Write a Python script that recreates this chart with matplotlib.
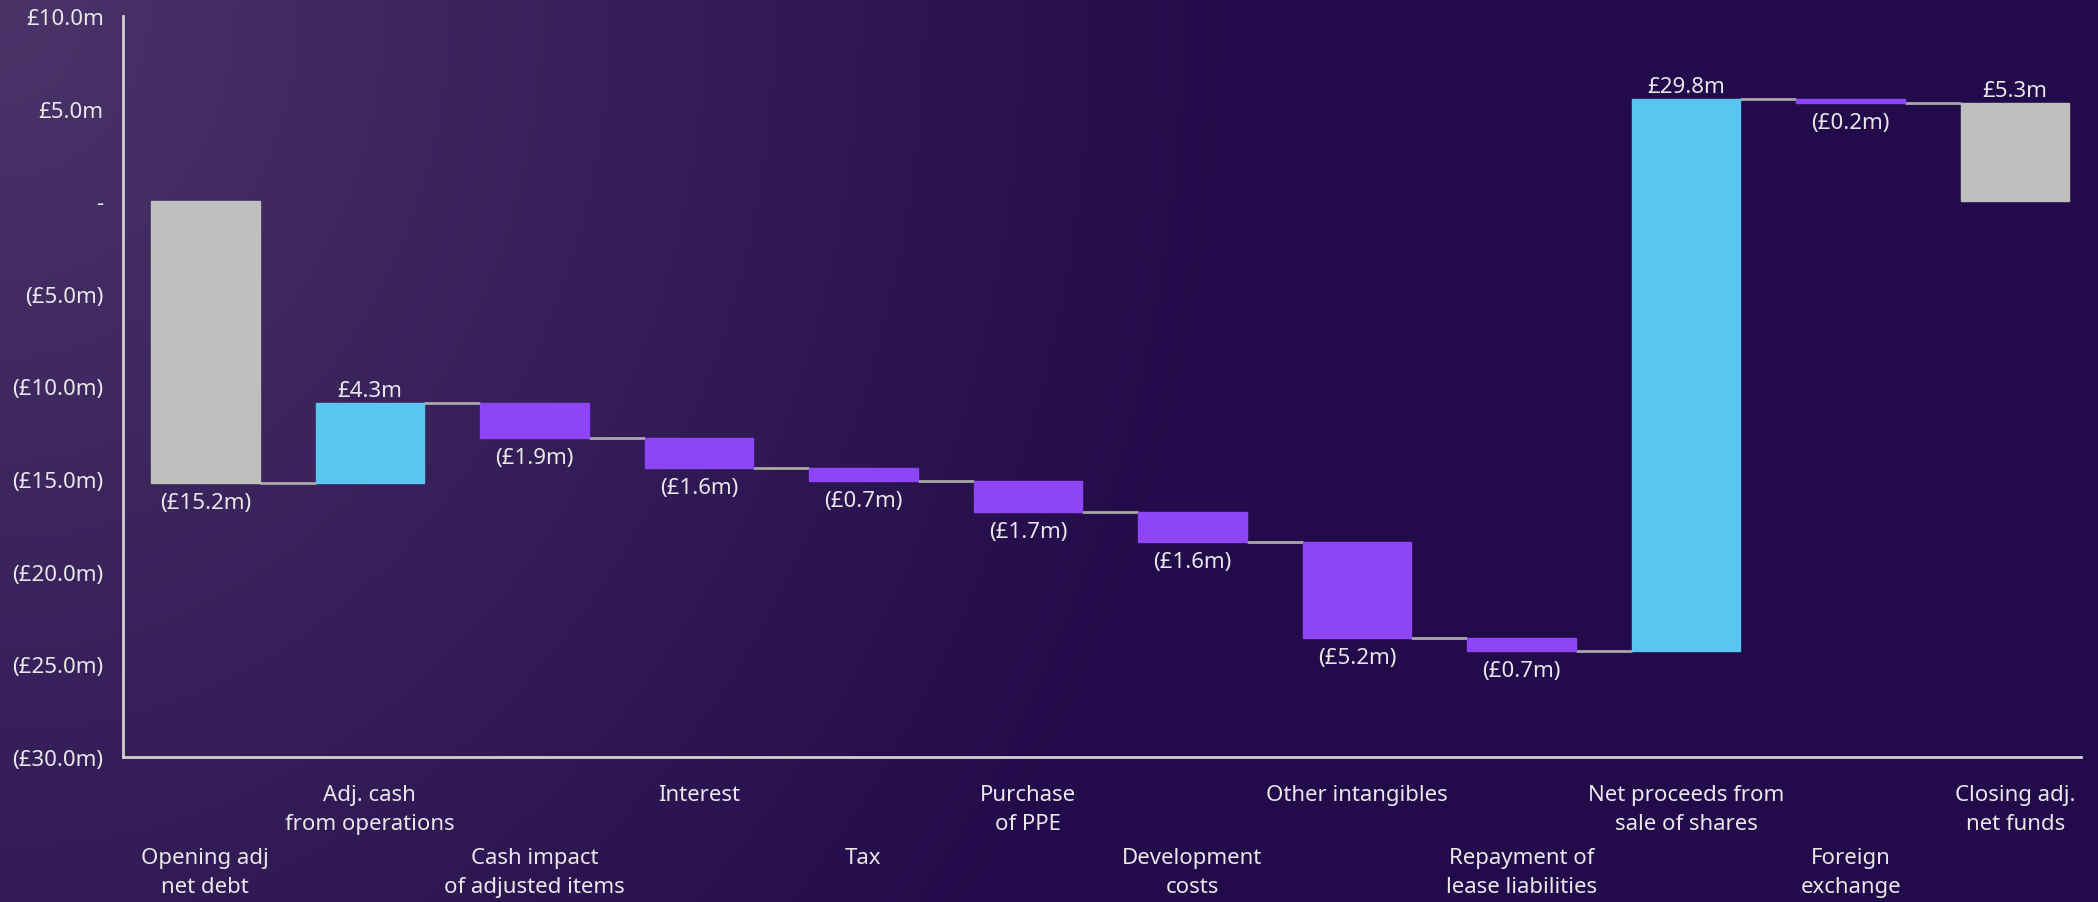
import matplotlib.pyplot as plt
import matplotlib.transforms as mtransforms
import numpy as np

plt.rcParams['font.family'] = ['Noto Sans', 'DejaVu Sans']

# data (GBP millions)
categories = ['Opening adj\nnet debt', 'Adj. cash\nfrom operations', 'Cash impact\nof adjusted items',
              'Interest', 'Tax', 'Purchase\nof PPE', 'Development\ncosts', 'Other intangibles',
              'Repayment of\nlease liabilities', 'Net proceeds from\nsale of shares',
              'Foreign\nexchange', 'Closing adj.\nnet funds']
values = [-15.2, 4.3, -1.9, -1.6, -0.7, -1.7, -1.6, -5.2, -0.7, 29.8, -0.2, 5.3]
is_total = [True, False, False, False, False, False, False, False, False, False, False, True]
y_ticks = [-30, -25, -20, -15, -10, -5, 0, 5, 10]

GREY = '#bfbfbf'
BLUE = '#5bc5f2'
PURPLE = '#8e45f5'
TXT = '#e8e8e8'
FS = 16


def money(v):
    if v == 0:
        return '-'
    if v < 0:
        return '(£%.1fm)' % abs(v)
    return '£%.1fm' % v


# work out bar bottoms / running totals
bottoms, heights, colors, ends = [], [], [], []
run = 0.0
for v, tot in zip(values, is_total):
    if tot:
        bottoms.append(0)
        heights.append(v)
        colors.append(GREY)
        run = v
    else:
        bottoms.append(run)
        heights.append(v)
        colors.append(BLUE if v > 0 else PURPLE)
        run = run + v
    ends.append(run)

W, H = 2098, 903
fig = plt.figure(figsize=(W / 100, H / 100), dpi=100)

# background gradient, lighter at the top-left corner
bg = fig.add_axes([0, 0, 1, 1], zorder=-1)
xx, yy = np.meshgrid(np.arange(W), np.arange(H))
d = np.clip(np.sqrt((xx / 1250.0) ** 2 + (yy / 1500.0) ** 2), 0, 1)
light = np.array([74, 52, 104]) / 255.0
dark = np.array([35, 10, 74]) / 255.0
img = light[None, None, :] * (1 - d[..., None]) + dark[None, None, :] * d[..., None]
bg.imshow(img, aspect='auto', interpolation='bilinear')
bg.axis('off')

ax = fig.add_axes([123 / W, 1 - 758 / H, (2081 - 123) / W, (758 - 17) / H])
ax.set_facecolor('none')

x = np.arange(len(values))
bw = 0.66
ax.bar(x, heights, bottom=bottoms, width=bw, color=colors, edgecolor=colors,
       linewidth=1, zorder=3)

# connectors between bars
for i in range(len(values) - 1):
    ax.hlines(ends[i], i + bw / 2, i + 1 - bw / 2, color='#a8a8a8', linewidth=2, zorder=2)

# value labels
for i, v in enumerate(values):
    if is_total[i]:
        top = max(0, v)
        bot = min(0, v)
    else:
        top = max(bottoms[i], bottoms[i] + v)
        bot = min(bottoms[i], bottoms[i] + v)
    if v > 0:
        ax.annotate(money(v), (i, top), xytext=(0, 1.5), textcoords='offset points',
                    ha='center', va='bottom', color=TXT, fontsize=FS)
    else:
        ax.annotate(money(v), (i, bot), xytext=(0, -6.5), textcoords='offset points',
                    ha='center', va='top', color=TXT, fontsize=FS)

ax.set_xlim(-0.5, 11.4)
ax.set_ylim(-30, 10)
ax.set_yticks(y_ticks)
ax.set_yticklabels([money(t) for t in y_ticks], color=TXT, fontsize=FS)
ax.tick_params(axis='y', length=0, pad=14)
ax.set_xticks([])

# staggered category labels
trans = mtransforms.blended_transform_factory(ax.transData, ax.transAxes)
for i, c in enumerate(categories):
    yrow = -0.036 if i % 2 == 1 else -0.122
    ax.text(i, yrow, c, transform=trans, ha='center', va='top', color=TXT,
            fontsize=FS, linespacing=1.5)

for s in ['top', 'right']:
    ax.spines[s].set_visible(False)
for s in ['left', 'bottom']:
    ax.spines[s].set_color('#d0d0d0')
    ax.spines[s].set_linewidth(2)

fig.savefig('out.png', dpi=100)
